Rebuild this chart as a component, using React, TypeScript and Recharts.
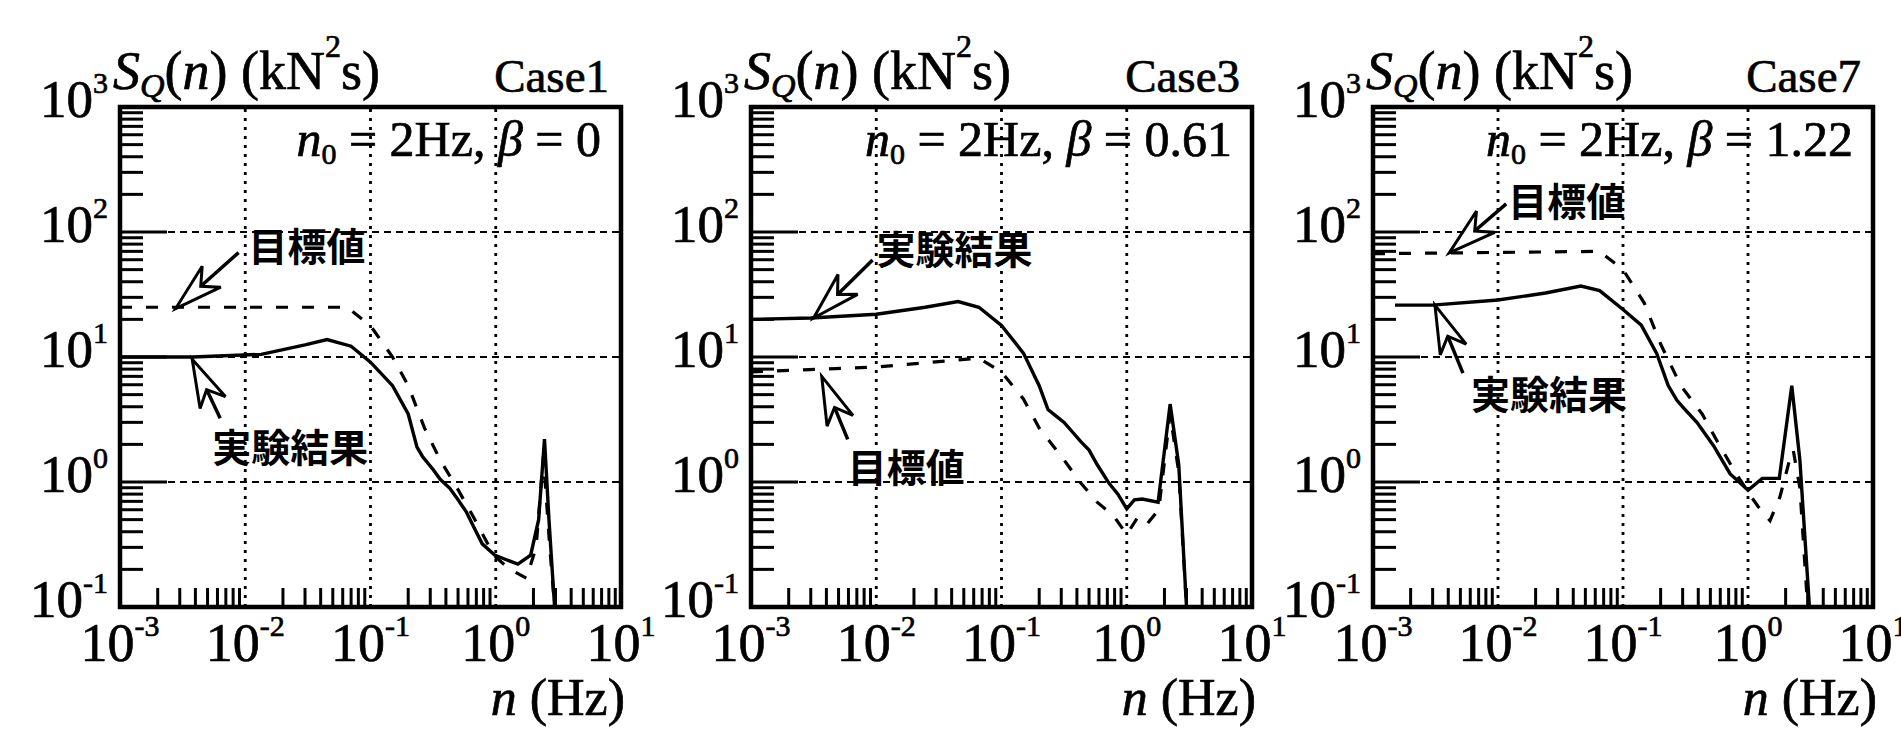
import React from "react";
import { LineChart, Line, XAxis, YAxis, ReferenceLine, ReferenceArea, ReferenceDot } from "recharts";

// Case1  (n0 = 2Hz, beta = 0)
const case1ExpFreq = [0.001, 0.0038, 0.0134, 0.03, 0.045, 0.07, 0.1, 0.15, 0.2, 0.235, 0.26, 0.316, 0.36, 0.43, 0.5, 0.58, 0.68, 0.78, 0.98, 1.2, 1.5, 1.9, 2.2, 2.45, 2.66, 2.95];
const case1ExpValue = [10, 10, 10.5, 12.5, 13.8, 12.2, 9.1, 5.9, 3.5, 1.9, 1.6, 1.26, 1.05, 0.89, 0.72, 0.58, 0.42, 0.32, 0.26, 0.24, 0.22, 0.26, 0.5, 2.2, 0.5, 0.1];
const case1TargetFreq = [0.001, 0.065, 0.1, 0.15, 0.2, 0.27, 0.36, 0.49, 0.66, 0.85, 1.0, 1.3, 1.76, 2.1, 2.4, 2.7, 2.95];
const case1TargetValue = [25, 25, 17.8, 10, 5.9, 2.7, 1.5, 0.9, 0.53, 0.33, 0.25, 0.2, 0.17, 0.3, 1.6, 0.3, 0.1];

// Case3  (beta = 0.61)
const case3ExpFreq = [0.001, 0.003, 0.01, 0.0246, 0.045, 0.066, 0.1, 0.15, 0.2, 0.235, 0.27, 0.316, 0.37, 0.43, 0.5, 0.58, 0.72, 0.85, 1.0, 1.15, 1.33, 1.78, 2.22, 2.6, 3.0];
const case3ExpValue = [20, 20.5, 22, 25, 27.8, 25, 17.9, 10.7, 5.9, 3.8, 3.4, 3.0, 2.5, 2.1, 1.8, 1.38, 0.98, 0.8, 0.61, 0.72, 0.73, 0.69, 4.2, 1.38, 0.1];
const case3TargetFreq = [0.001, 0.01, 0.066, 0.1, 0.15, 0.2, 0.316, 0.43, 0.58, 0.78, 1.0, 1.25, 1.5, 1.8, 2.22, 2.6, 3.0];
const case3TargetValue = [7.6, 8.3, 9.8, 7.6, 4.6, 2.7, 1.5, 0.98, 0.69, 0.54, 0.38, 0.54, 0.48, 0.6, 3.5, 1.2, 0.1];

// Case7  (beta = 1.22)
const case7ExpFreq = [0.0015, 0.003, 0.01, 0.024, 0.046, 0.065, 0.1, 0.14, 0.186, 0.23, 0.27, 0.31, 0.39, 0.53, 0.72, 0.85, 1.0, 1.3, 1.78, 2.24, 2.6, 3.1];
const case7ExpValue = [26, 26, 28.6, 32.5, 37, 34, 24, 18, 10.7, 5.9, 4.5, 3.85, 3.0, 1.95, 1.16, 1.0, 0.86, 1.07, 1.07, 5.9, 1.5, 0.1];
const case7TargetFreq = [0.001, 0.065, 0.1, 0.148, 0.2, 0.29, 0.43, 0.57, 0.77, 1.0, 1.2, 1.5, 1.8, 2.15, 2.3, 2.6, 3.0];
const case7TargetValue = [67, 70, 50, 27, 12.7, 5.9, 3.5, 2.1, 1.25, 0.83, 0.64, 0.49, 0.76, 1.5, 1.8, 0.9, 0.1];

// axes
const X_MAJOR = [0.001, 0.01, 0.1, 1, 10];
const Y_MAJOR = [0.1, 1, 10, 100, 1000];
const X_GRID = [0.01, 0.1, 1];
const Y_GRID = [1, 10, 100];
const MINOR_STEPS = [2, 3, 4, 5, 6, 7, 8, 9];

const minorOf = (majors: number[]) => {
  const out: number[] = [];
  majors.slice(0, -1).forEach((m) => MINOR_STEPS.forEach((k) => out.push(+(m * k).toPrecision(3))));
  return out;
};
const X_MINOR = minorOf(X_MAJOR);
const Y_MINOR = minorOf(Y_MAJOR);

const SERIF = "'Liberation Serif', 'DejaVu Serif', serif";
const CJK = "'Noto Sans CJK JP', 'Noto Sans CJK SC', sans-serif";
const INK = "#000";

const zip = (n: number[], s: number[]) => n.map((v, i) => ({ n: v, s: s[i] }));
const expOf = (v: number) => String(Math.round(Math.log10(v)));

const PLOT_TOP = 107;
const AXIS_W = 120;
const X_AXIS_H = 122;
const RIGHT_PAD = 45;
const H = 729;
const PLOT_H = H - X_AXIS_H - PLOT_TOP;

const XTick = (props: any) => {
  const { x, y, payload } = props;
  return (
    <text x={x} y={y + 54} textAnchor="middle" fontFamily={SERIF} fontSize={54} fill={INK} stroke={INK} strokeWidth={0.7}>
      10<tspan dy={-25} fontSize={30}>{expOf(payload.value)}</tspan>
    </text>
  );
};

const YTick = (props: any) => {
  const { x, y, payload } = props;
  return (
    <text x={x - 12} y={y + 10} textAnchor="end" fontFamily={SERIF} fontSize={53} fill={INK} stroke={INK} strokeWidth={0.7}>
      10<tspan dy={-24} fontSize={30}>{expOf(payload.value)}</tspan>
    </text>
  );
};

type Note = { text: string; n: number; s: number; dx: number; dy: number; tx: number; ty: number };

const Arrow = ({ cx, cy, note }: { cx: number; cy: number; note: Note }) => {
  const len = Math.hypot(note.dx, note.dy);
  const ux = note.dx / len;
  const uy = note.dy / len;
  const px = -uy;
  const py = ux;
  const L = 48;
  const W = 14;
  const bx = cx + ux * L;
  const by = cy + uy * L;
  const nx = cx + ux * L * 0.7;
  const ny = cy + uy * L * 0.7;
  const head = [
    [cx, cy],
    [bx + px * W, by + py * W],
    [nx, ny],
    [bx - px * W, by - py * W],
  ]
    .map((p) => p.join(","))
    .join(" ");
  return (
    <g>
      <line x1={nx} y1={ny} x2={cx + note.dx} y2={cy + note.dy} stroke={INK} strokeWidth={3.5} />
      <polygon points={head} fill="#fff" stroke={INK} strokeWidth={3} strokeLinejoin="miter" />
      <text
        x={cx + note.tx}
        y={cy + note.ty}
        dominantBaseline="central"
        fontFamily={CJK}
        fontSize={39}
        fontWeight={700}
        fill={INK}
      >
        {note.text}
      </text>
    </g>
  );
};

// inward log ticks along the left and bottom frame (same log mapping as the chart axes)
function LogTicks({ plotWidth }: { plotWidth: number }) {
  const xDec = plotWidth / 4;
  const yDec = PLOT_H / 4;
  const yPix = (v: number) => PLOT_TOP + (3 - Math.log10(v)) * yDec;
  const xPix = (v: number) => AXIS_W + (Math.log10(v) + 3) * xDec;
  const bottom = PLOT_TOP + PLOT_H;
  return (
    <g>
      {Y_MINOR.map((v) => (
        <line key={"ym" + v} x1={AXIS_W} x2={AXIS_W + 23} y1={yPix(v)} y2={yPix(v)} stroke={INK} strokeWidth={3} />
      ))}
      {Y_MAJOR.map((v) => (
        <line key={"yM" + v} x1={AXIS_W} x2={AXIS_W + 47} y1={yPix(v)} y2={yPix(v)} stroke={INK} strokeWidth={3} />
      ))}
      {X_MINOR.map((v) => (
        <line key={"xm" + v} x1={xPix(v)} x2={xPix(v)} y1={bottom} y2={bottom - 19} stroke={INK} strokeWidth={3} />
      ))}
    </g>
  );
}

type PanelProps = {
  plotLeft: number;
  plotWidth: number;
  caseLabel: string;
  beta: string;
  exp: { n: number; s: number }[];
  target: { n: number; s: number }[];
  notes: Note[];
};

function Panel({ plotLeft, plotWidth, caseLabel, beta, exp, target, notes }: PanelProps) {
  const W = AXIS_W + plotWidth + RIGHT_PAD;
  const left = plotLeft - AXIS_W;
  const pr = AXIS_W + plotWidth;
  const textStroke = { stroke: INK, strokeWidth: 0.7 };
  return (
    <div style={{ position: "absolute", left, top: 0, width: W, height: H }}>
      <LineChart width={W} height={H} margin={{ top: PLOT_TOP, right: RIGHT_PAD, left: 0, bottom: 0 }}>
        <XAxis
          dataKey="n"
          type="number"
          scale="log"
          domain={[0.001, 10]}
          allowDataOverflow
          ticks={X_MAJOR}
          interval={0}
          tickSize={0}
          tickMargin={0}
          axisLine={false}
          tickLine={false}
          height={X_AXIS_H}
          tick={(p: any) => <XTick {...p} />}
        />
        <YAxis
          type="number"
          scale="log"
          domain={[0.1, 1000]}
          allowDataOverflow
          ticks={Y_MAJOR}
          interval={0}
          tickSize={0}
          tickMargin={0}
          axisLine={false}
          tickLine={false}
          width={AXIS_W}
          tick={(p: any) => <YTick {...p} />}
        />
        {X_GRID.map((g) => (
          <ReferenceLine key={"x" + g} x={g} stroke={INK} strokeWidth={2.8} strokeDasharray="3 6" />
        ))}
        {Y_GRID.map((g) => (
          <ReferenceLine key={"y" + g} y={g} stroke={INK} strokeWidth={1.8} strokeDasharray="7 5" />
        ))}
        <Line
          data={target}
          dataKey="s"
          type="linear"
          dot={false}
          stroke={INK}
          strokeWidth={3.2}
          strokeDasharray="12 14"
          isAnimationActive={false}
        />
        <Line data={exp} dataKey="s" type="linear" dot={false} stroke={INK} strokeWidth={3.4} isAnimationActive={false} />
        <ReferenceArea x1={0.001} x2={10} y1={0.1} y2={1000} fill="none" fillOpacity={0} stroke={INK} strokeWidth={4.5} />
        {notes.map((note) => (
          <ReferenceDot
            key={note.text}
            x={note.n}
            y={note.s}
            r={0}
            shape={(p: any) => <Arrow cx={p.cx} cy={p.cy} note={note} />}
          />
        ))}
      </LineChart>
      <svg width={W} height={H} style={{ position: "absolute", left: 0, top: 0, pointerEvents: "none" }}>
        <LogTicks plotWidth={plotWidth} />
        <text x={AXIS_W - 7} y={89} fontFamily={SERIF} fontSize={54} fill={INK} {...textStroke}>
          <tspan fontStyle="italic">S</tspan>
          <tspan fontStyle="italic" fontSize={34} dy={8}>Q</tspan>
          <tspan dy={-8}>(</tspan>
          <tspan fontStyle="italic">n</tspan>
          <tspan>) (kN</tspan>
          <tspan fontSize={32} dy={-32}>2</tspan>
          <tspan dy={32}>s)</tspan>
        </text>
        <text x={pr - 12} y={92} textAnchor="end" fontFamily={SERIF} fontSize={47} fill={INK} {...textStroke}>
          {caseLabel}
        </text>
        <text x={pr - 20} y={156} textAnchor="end" fontFamily={SERIF} fontSize={50} fill={INK} {...textStroke}>
          <tspan fontStyle="italic">n</tspan>
          <tspan fontSize={30} dy={8}>0</tspan>
          <tspan dy={-8}>{" = 2Hz,  "}</tspan>
          <tspan fontStyle="italic">β</tspan>
          <tspan>{" = " + beta}</tspan>
        </text>
        <text x={pr + 4} y={715} textAnchor="end" fontFamily={SERIF} fontSize={52} fill={INK} {...textStroke}>
          <tspan fontStyle="italic">n</tspan>
          <tspan>{" (Hz)"}</tspan>
        </text>
      </svg>
    </div>
  );
}

const PANELS: PanelProps[] = [
  {
    plotLeft: 120,
    plotWidth: 501,
    caseLabel: "Case1",
    beta: "0",
    exp: zip(case1ExpFreq, case1ExpValue),
    target: zip(case1TargetFreq, case1TargetValue),
    notes: [
      { text: "目標値", n: 0.00278, s: 24.4, dx: 63, dy: -56, tx: 73, ty: -65 },
      { text: "実験結果", n: 0.00377, s: 9.6, dx: 28, dy: 59, tx: 20, ty: 86 },
    ],
  },
  {
    plotLeft: 751,
    plotWidth: 501,
    caseLabel: "Case3",
    beta: "0.61",
    exp: zip(case3ExpFreq, case3ExpValue),
    target: zip(case3TargetFreq, case3TargetValue),
    notes: [
      { text: "実験結果", n: 0.00316, s: 20.5, dx: 59, dy: -58, tx: 63, ty: -71 },
      { text: "目標値", n: 0.00367, s: 7.0, dx: 26, dy: 63, tx: 26, ty: 89 },
    ],
  },
  {
    plotLeft: 1373,
    plotWidth: 500,
    caseLabel: "Case7",
    beta: "1.22",
    exp: zip(case7ExpFreq, case7ExpValue),
    target: zip(case7TargetFreq, case7TargetValue),
    notes: [
      { text: "目標値", n: 0.00407, s: 68, dx: 57, dy: -49, tx: 59, ty: -54 },
      { text: "実験結果", n: 0.00313, s: 26, dx: 28, dy: 68, tx: 36, ty: 87 },
    ],
  },
];

export default function App() {
  return (
    <div
      style={{
        position: "absolute",
        left: 0,
        top: 0,
        width: 1901,
        height: H,
        background: "#fff",
        overflow: "hidden",
      }}
    >
      {PANELS.map((p) => (
        <Panel key={p.caseLabel} {...p} />
      ))}
    </div>
  );
}
